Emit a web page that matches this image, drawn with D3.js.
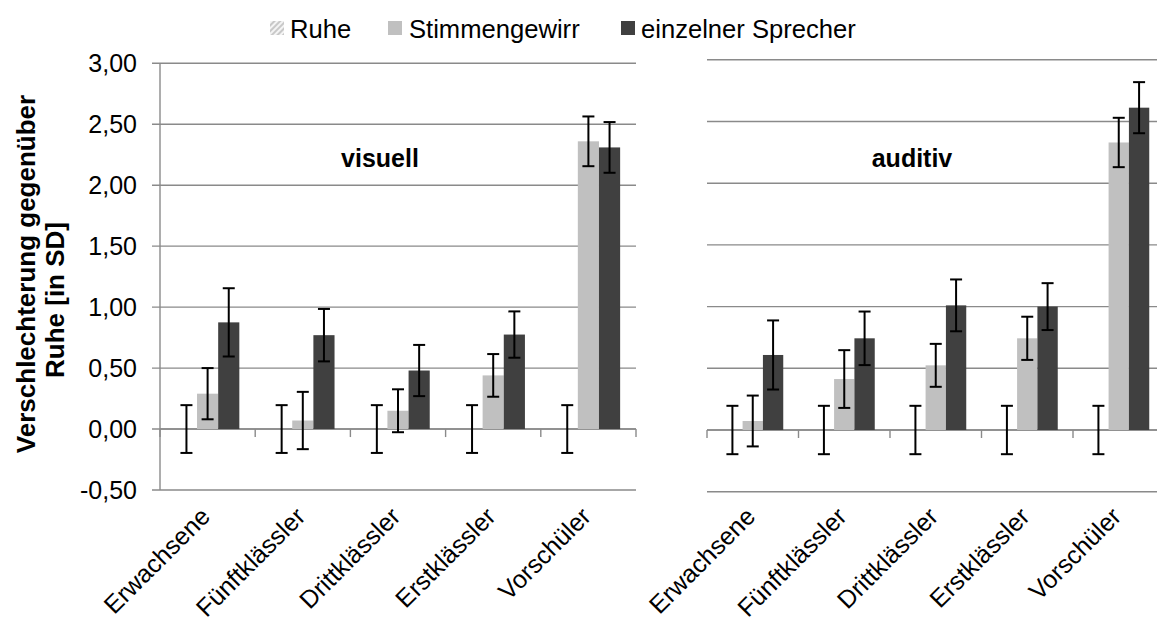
<!DOCTYPE html>
<html><head><meta charset="utf-8">
<script src="https://cdn.jsdelivr.net/npm/d3@7"></script>
<style>
html,body{margin:0;padding:0;background:#fff;}
svg{display:block;font-family:"Liberation Sans",Arial,sans-serif;}
</style></head>
<body><svg id="chart" width="1157" height="627"></svg>
<script>
const categories = ["Erwachsene","Fünftklässler","Drittklässler","Erstklässler","Vorschüler"];
const seriesNames = ["Ruhe","Stimmengewirr","einzelner Sprecher"];
const yTicks = [-0.5,0,0.5,1,1.5,2,2.5,3];
// visuell
const visRuhe = [0,0,0,0,0];
const visRuheErr = [0.196,0.196,0.196,0.196,0.196];
const visStimm = [0.29,0.07,0.15,0.44,2.36];
const visStimmErr = [0.21,0.235,0.176,0.175,0.204];
const visEinz = [0.875,0.77,0.48,0.775,2.31];
const visEinzErr = [0.28,0.215,0.21,0.19,0.208];
// auditiv
const audRuhe = [0,0,0,0,0];
const audRuheErr = [0.196,0.196,0.196,0.196,0.196];
const audStimm = [0.073,0.413,0.524,0.743,2.33];
const audStimmErr = [0.206,0.234,0.174,0.175,0.2];
const audEinz = [0.608,0.743,1.01,1.0,2.612];
const audEinzErr = [0.28,0.217,0.21,0.19,0.207];

const colors = {"Ruhe":"url(#hatch)","Stimmengewirr":"#c0c0c0","einzelner Sprecher":"#404040"};
const loc = d3.formatLocale({decimal:",",thousands:".",grouping:[3],currency:["","€"],minus:"-"});
const fmt = loc.format(".2f");

const svg = d3.select("#chart");
svg.append("rect").attr("width",1157).attr("height",627).attr("fill","#fff");
const defs = svg.append("defs");
const pat = defs.append("pattern").attr("id","hatch").attr("patternUnits","userSpaceOnUse")
  .attr("width",4).attr("height",4).attr("patternTransform","rotate(45)");
pat.append("rect").attr("width",4).attr("height",4).attr("fill","#f4f4f4");
pat.append("rect").attr("width",2).attr("height",4).attr("fill","#c8c8c8");

const gridColor = "#8a8a8a";
const FS = 25;

const panels = [
  {title:"visuell", x0:160, x1:636, yBottom:490, yTop:63.3, axis:true, titleX:380,
   data:[visRuhe,visStimm,visEinz], err:[visRuheErr,visStimmErr,visEinzErr]},
  {title:"auditiv", x0:707, x1:1164.5, yBottom:491.7, yTop:59.8, axis:false, titleX:912,
   data:[audRuhe,audStimm,audEinz], err:[audRuheErr,audStimmErr,audEinzErr]}
];

panels.forEach(p => {
  const g = svg.append("g");
  const x = d3.scaleBand().domain(categories).range([p.x0,p.x1]).padding(0);
  const xs = d3.scaleBand().domain(seriesNames).range([0,x.bandwidth()]).paddingInner(0).paddingOuter(0.75);
  const y = d3.scaleLinear().domain([-0.5,3]).range([p.yBottom,p.yTop]);

  g.append("g").selectAll("line").data(yTicks).join("line")
    .attr("x1", p.axis ? p.x0-8 : p.x0).attr("x2", p.x1)
    .attr("y1", d=>y(d)).attr("y2", d=>y(d))
    .attr("stroke", gridColor).attr("stroke-width",1.4);

  if (p.axis) {
    g.append("line").attr("x1",p.x0).attr("x2",p.x0).attr("y1",y(3)).attr("y2",y(-0.5))
      .attr("stroke",gridColor).attr("stroke-width",1.4);
    g.append("g").selectAll("text").data(yTicks).join("text")
      .attr("x", p.x0-23).attr("y", d=>y(d)).attr("dy","0.36em")
      .attr("text-anchor","end").attr("font-size",FS).attr("fill","#000")
      .text(d=>fmt(d));
  }
  const bounds = categories.map(c=>x(c)).concat([p.x1]);
  g.append("g").selectAll("line").data(bounds).join("line")
    .attr("x1",d=>d).attr("x2",d=>d).attr("y1",y(0)).attr("y2",y(0)+8)
    .attr("stroke",gridColor).attr("stroke-width",1.4);
  g.append("line").attr("x1",p.x0).attr("x2",p.x1).attr("y1",y(0)).attr("y2",y(0))
    .attr("stroke",gridColor).attr("stroke-width",1.4);

  seriesNames.forEach((s,si) => {
    const vals = p.data[si];
    g.append("g").selectAll("rect").data(categories).join("rect")
      .attr("x", (c)=>x(c)+xs(s))
      .attr("width", xs.bandwidth())
      .attr("y", (c,i)=>Math.min(y(vals[i]),y(0)))
      .attr("height", (c,i)=>Math.abs(y(vals[i])-y(0)))
      .attr("fill", colors[s]);
  });
  seriesNames.forEach((s,si) => {
    const vals = p.data[si], errs = p.err[si];
    const eg = g.append("g").attr("stroke","#000").attr("stroke-width",2).attr("fill","none");
    categories.forEach((c,i) => {
      const cx = x(c)+xs(s)+xs.bandwidth()/2;
      const yt = y(vals[i]+errs[i]), yb = y(vals[i]-errs[i]);
      eg.append("line").attr("x1",cx).attr("x2",cx).attr("y1",yt).attr("y2",yb);
      eg.append("line").attr("x1",cx-6).attr("x2",cx+6).attr("y1",yt).attr("y2",yt);
      eg.append("line").attr("x1",cx-6).attr("x2",cx+6).attr("y1",yb).attr("y2",yb);
    });
  });
  g.append("g").selectAll("text").data(categories).join("text")
    .attr("transform", c=>`translate(${x(c)+x.bandwidth()/2+4},${518}) rotate(-45)`)
    .attr("text-anchor","end").attr("font-size",FS).attr("fill","#000")
    .text(c=>c);
  g.append("text").attr("x",p.titleX).attr("y",167).attr("text-anchor","middle")
    .attr("font-size",FS).attr("font-weight","bold").attr("fill","#000").text(p.title);
});

const yl = svg.append("g").attr("font-size",26).attr("font-weight","bold").attr("fill","#000");
yl.append("text").attr("transform","translate(35,274) rotate(-90)")
  .attr("text-anchor","middle").text("Verschlechterung gegenüber");
yl.append("text").attr("transform","translate(64,300) rotate(-90)")
  .attr("text-anchor","middle").text("Ruhe [in SD]");

const LFS = 25.6;
const legend = svg.append("g");
const legItems = [
  {name:"Ruhe", sx:270, tx:290},
  {name:"Stimmengewirr", sx:388, tx:409},
  {name:"einzelner Sprecher", sx:621, tx:641}
];
legItems.forEach(it => {
  legend.append("rect").attr("x",it.sx).attr("y",21).attr("width",14).attr("height",14)
    .attr("fill",colors[it.name]);
  legend.append("text").attr("x",it.tx).attr("y",38).attr("font-size",LFS).attr("fill","#000").text(it.name);
});
</script></body></html>
